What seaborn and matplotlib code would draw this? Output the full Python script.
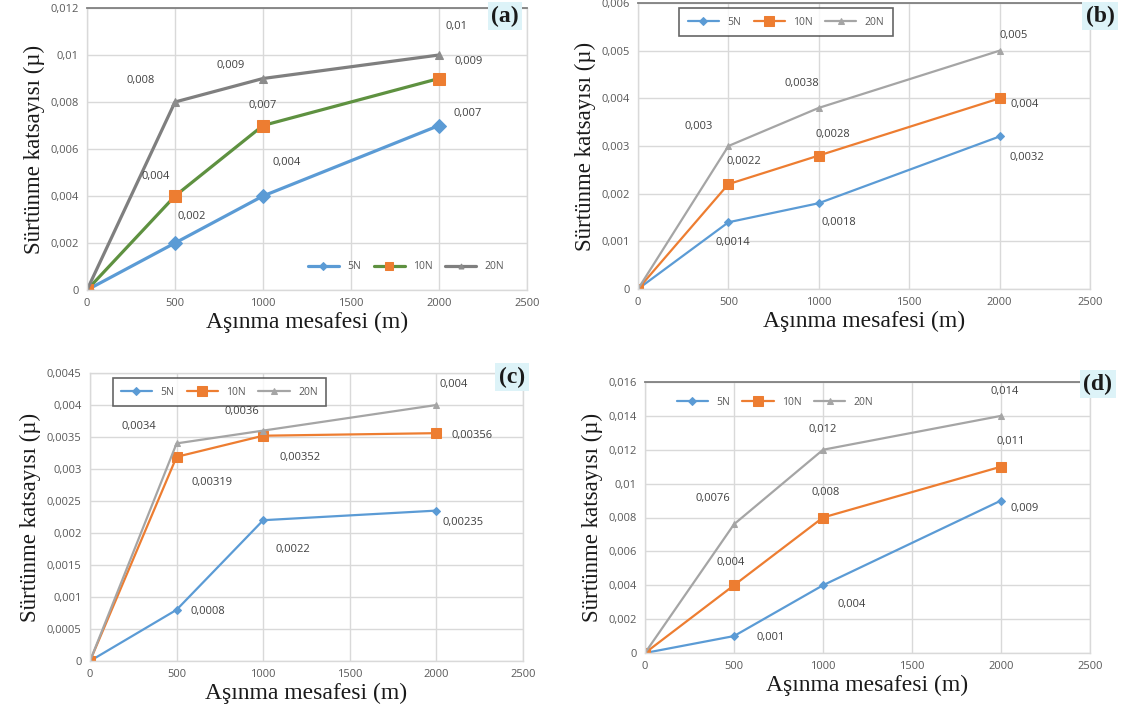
import numpy as np
import matplotlib
matplotlib.use("Agg")
import matplotlib.pyplot as plt
from matplotlib.ticker import FuncFormatter, MultipleLocator
import seaborn as sns

# -----------------------------
# Data
# -----------------------------
distance = [0, 500, 1000, 2000]
loads = ["5N", "10N", "20N"]

a_5n = [0, 0.002, 0.004, 0.007]
a_10n = [0, 0.004, 0.007, 0.009]
a_20n = [0, 0.008, 0.009, 0.010]

b_5n = [0, 0.0014, 0.0018, 0.0032]
b_10n = [0, 0.0022, 0.0028, 0.004]
b_20n = [0, 0.003, 0.0038, 0.005]

c_5n = [0, 0.0008, 0.0022, 0.00235]
c_10n = [0, 0.00319, 0.00352, 0.00356]
c_20n = [0, 0.0034, 0.0036, 0.004]

d_5n = [0, 0.001, 0.004, 0.009]
d_10n = [0, 0.004, 0.008, 0.011]
d_20n = [0, 0.0076, 0.012, 0.014]

panel_names = ["(a)", "(b)", "(c)", "(d)"]
y_max = [0.012, 0.006, 0.0045, 0.016]
y_step = [0.002, 0.001, 0.0005, 0.002]

x_label = "Aşınma mesafesi (m)"
y_label = "Sürtünme katsayısı (µ)"

# -----------------------------
# Layout / style
# -----------------------------
W, H = 1121, 715
# axes boxes in pixels: left, right, top, bottom
boxes = [(87, 527, 8, 290), (638, 1090, 3, 289),
         (90, 523, 373, 661), (645, 1090, 382, 653)]
tag_pos = [(505, 16), (1100, 16), (512, 377), (1098, 384)]

BLUE, ORANGE, GREY = "#5B9BD5", "#ED7D31", "#A5A5A5"

# label offsets (pixels) for the points at 500, 1000, 2000
offsets = {
    0: [[(17, 27), (24, 33), (29, 12)],
        [(-19, 20), (0, 20), (30, 17)],
        [(-34, 21), (-32, 13), (17, 29)]],
    1: [[(4, -20), (20, -19), (27, -21)],
        [(15, 23), (14, 21), (25, -6)],
        [(-30, 19), (-17, 24), (14, 15)]],
    2: [[(31, -2), (30, -29), (27, -12)],
        [(35, -26), (37, -22), (36, -2)],
        [(-38, 17), (-21, 19), (17, 20)]],
    3: [[(37, -1), (29, -19), (24, -8)],
        [(-3, 23), (3, 25), (10, 25)],
        [(-21, 26), (0, 20), (4, 24)]],
}


def comma(v, pos=None):
    return f"{v:.6g}".replace(".", ",")


sns.set_style("whitegrid")
fig = plt.figure(figsize=(W / 100, H / 100), dpi=100)

series = [(a_5n, a_10n, a_20n), (b_5n, b_10n, b_20n),
          (c_5n, c_10n, c_20n), (d_5n, d_10n, d_20n)]

for i, (l, r, t, b) in enumerate(boxes):
    ax = fig.add_axes([l / W, 1 - b / H, (r - l) / W, (b - t) / H])

    if i == 0:
        colors = [BLUE, "#5E9140", "#7F7F7F"]
        mcolors = [BLUE, ORANGE, "#8C8C8C"]
        lw, ms = 2.3, [7, 9, 6]
    else:
        colors = [BLUE, ORANGE, GREY]
        mcolors = colors
        lw, ms = 1.6, [4.5, 6.5, 4.5]
    markers = ["D", "s", "^"]

    for k, vals in enumerate(series[i]):
        sns.lineplot(x=distance, y=vals, ax=ax, color=colors[k], linewidth=lw,
                     marker=markers[k], markersize=ms[k],
                     markerfacecolor=mcolors[k], markeredgecolor=mcolors[k],
                     label=loads[k])
        for j in range(1, 4):
            ax.annotate(comma(vals[j]), (distance[j], vals[j]),
                        xytext=offsets[i][k][j - 1], textcoords="offset pixels",
                        ha="center", va="center", fontsize=8, color="#404040",
                        family="Open Sans")

    ax.set_xlim(0, 2500)
    ax.set_ylim(0, y_max[i])
    ax.xaxis.set_major_locator(MultipleLocator(500))
    ax.yaxis.set_major_locator(MultipleLocator(y_step[i]))
    ax.yaxis.set_major_formatter(FuncFormatter(comma))
    ax.grid(color="#D9D9D9", linewidth=1)
    for s in ax.spines.values():
        s.set_color("#D9D9D9")
        s.set_linewidth(1)
    if i != 2:
        ax.spines["top"].set_color("#808080")
        ax.spines["top"].set_linewidth(1.3)
    ax.tick_params(labelsize=8, colors="#595959", length=0, pad=6)
    for lab in ax.get_xticklabels() + ax.get_yticklabels():
        lab.set_family("Open Sans")

    ax.set_xlabel(x_label, family="Liberation Serif", fontsize=17,
                  color="#1A1A1A", labelpad=2)
    ax.set_ylabel(y_label, family="Liberation Serif", fontsize=16.5,
                  color="#1A1A1A", labelpad=4)

    leg_kw = dict(ncol=3, handlelength=3, columnspacing=1.2,
                  prop={"family": "Open Sans", "size": 7.5})
    if i == 0:
        leg = ax.legend(loc="lower right", bbox_to_anchor=(0.97, 0.03),
                        frameon=False, markerscale=0.6, **leg_kw)
    elif i == 3:
        leg = ax.legend(loc="upper left", bbox_to_anchor=(0.05, 0.98),
                        frameon=False, **leg_kw)
    else:
        anchor = (0.08, 1.0) if i == 1 else (0.04, 1.0)
        leg = ax.legend(loc="upper left", bbox_to_anchor=anchor,
                        frameon=True, fancybox=False, borderpad=0.8, **leg_kw)
        leg.get_frame().set_edgecolor("#404040")
        leg.get_frame().set_linewidth(1.2)
    for txt in leg.get_texts():
        txt.set_color("#595959")

    tx, ty = tag_pos[i]
    fig.text(tx / W, 1 - ty / H, panel_names[i], family="Liberation Serif",
             fontsize=17, fontweight="bold", ha="center", va="center",
             color="#1A1A1A",
             bbox=dict(boxstyle="square,pad=0.15", facecolor="#DDF3F8",
                       edgecolor="none"))

fig.savefig("out.png", dpi=100)
